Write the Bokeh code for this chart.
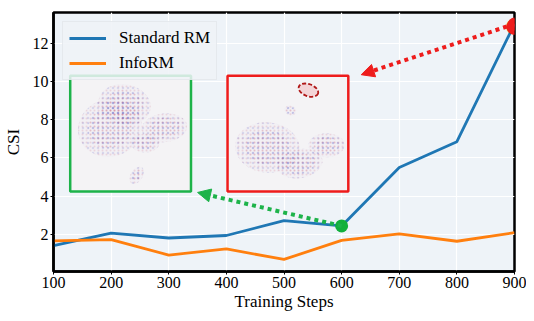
from bokeh.plotting import figure
from bokeh.models import Arrow, NormalHead, FixedTicker, Legend, LegendItem, Label
from bokeh.embed import file_html
from bokeh.resources import INLINE

# ---- data ----
steps = [100, 200, 300, 400, 500, 600, 700, 800, 900]
standard_rm = [1.42, 2.07, 1.82, 1.95, 2.73, 2.45, 5.50, 6.85, 13.0]
info_rm = [1.67, 1.73, 0.93, 1.25, 0.70, 1.70, 2.03, 1.65, 2.10]
x_ticks = [100, 200, 300, 400, 500, 600, 700, 800, 900]
y_ticks = [2, 4, 6, 8, 10, 12]
series_names = ["Standard RM", "InfoRM"]
x_title = "Training Steps"
y_title = "CSI"

BLUE = "#1f77b4"
ORANGE = "#ff7f0e"
RED = "#ee1c1c"
GREEN = "#1db34a"
SERIF = "Liberation Serif"

W, H = 526, 313
BL, BR, BT, BB = 53, 12, 12, 34
X0, X1, Y0, Y1 = 100, 900, 0.07, 13.6
p = figure(width=W, height=H, x_range=(X0, X1), y_range=(Y0, Y1),
           output_backend="svg", toolbar_location=None,
           min_border_left=BL, min_border_right=BR, min_border_top=BT, min_border_bottom=BB)
p.background_fill_color = "#eef3f8"
p.border_fill_color = "white"
p.outline_line_color = "black"
p.outline_line_width = 2.5

p.xgrid.grid_line_color = "white"
p.ygrid.grid_line_color = "white"
p.xgrid.grid_line_width = 1.2
p.ygrid.grid_line_width = 1.2

p.xaxis.ticker = FixedTicker(ticks=x_ticks)
p.yaxis.ticker = FixedTicker(ticks=y_ticks)
for ax in (p.xaxis[0], p.yaxis[0]):
    ax.axis_line_color = "black"
    ax.axis_line_width = 2.5
    ax.major_tick_line_color = "black"
    ax.major_tick_out = 3
    ax.major_tick_in = 0
    ax.minor_tick_line_color = None
    ax.major_label_text_font = SERIF
    ax.major_label_text_font_size = "16px"
    ax.major_label_text_color = "black"
    ax.axis_label_text_font = SERIF
    ax.axis_label_text_font_size = "17px"
    ax.axis_label_text_font_style = "normal"
    ax.axis_label_text_color = "black"
p.xaxis.axis_label = x_title
p.yaxis.axis_label = y_title
p.xaxis.major_label_standoff = 2
p.yaxis.major_label_standoff = 2
p.xaxis.axis_label_standoff = 1
p.yaxis.axis_label_standoff = 7

# ---- insets (t-SNE thumbnails, drawn schematically) ----
def to_data(box, u, v):
    x0, x1, y0, y1 = box
    return x0 + u * (x1 - x0), y0 + v * (y1 - y0)

green_box = (129, 338.6, 4.25, 10.3)
red_box = (402, 611.6, 4.25, 10.3)
BOX_PX = 120

for box, col in ((green_box, GREEN), (red_box, RED)):
    x0, x1, y0, y1 = box
    p.quad(left=[x0], right=[x1], bottom=[y0], top=[y1], fill_color="#f4f3f5",
           line_color=col, line_width=2.5)

green_blobs = [  # u, v, w, h, angle
    (0.33, 0.55, 0.54, 0.48, 0.3),
    (0.45, 0.75, 0.44, 0.34, -0.2),
    (0.78, 0.55, 0.38, 0.24, 0.1),
    (0.62, 0.42, 0.24, 0.16, 0.0),
    (0.55, 0.14, 0.10, 0.16, -0.6),
]
red_blobs = [
    (0.33, 0.38, 0.54, 0.42, -0.1),
    (0.60, 0.24, 0.38, 0.24, 0.2),
    (0.82, 0.40, 0.30, 0.20, 0.0),
    (0.52, 0.70, 0.10, 0.08, -0.4),
]

def draw_blobs(box, blobs):
    xs, ys, ws, hs, ang = [], [], [], [], []
    for u, v, w, h, a in blobs:
        x, y = to_data(box, u, v)
        xs.append(x); ys.append(y); ws.append(w * BOX_PX); hs.append(h * BOX_PX); ang.append(a)
    p.ellipse(x=xs, y=ys, width=ws, height=hs, angle=ang,
              width_units="screen", height_units="screen",
              fill_color="#ece6f0", fill_alpha=0.2, line_color=None)
    for shrink, alpha in ((1.0, 0.16), (0.7, 0.16)):
        p.ellipse(x=xs, y=ys, width=[w * shrink for w in ws], height=[h * shrink for h in hs],
                  angle=ang, width_units="screen", height_units="screen",
                  fill_color=None, line_color=None,
                  hatch_pattern="dot", hatch_scale=4, hatch_color="#c04a66",
                  hatch_alpha=alpha, hatch_weight=0.5)
        p.ellipse(x=xs, y=ys, width=[w * shrink for w in ws], height=[h * shrink for h in hs],
                  angle=ang, width_units="screen", height_units="screen",
                  fill_color=None, line_color=None,
                  hatch_pattern="dot", hatch_scale=5, hatch_color="#5050c0",
                  hatch_alpha=alpha, hatch_weight=0.5)

draw_blobs(green_box, green_blobs)
draw_blobs(red_box, red_blobs)

# dashed highlight ellipse in the red inset
hx, hy = to_data(red_box, 0.67, 0.875)
p.ellipse(x=[hx], y=[hy], width=[0.17 * BOX_PX], height=[0.10 * BOX_PX], angle=[-0.35],
          width_units="screen", height_units="screen",
          fill_color="#f2ccd0", fill_alpha=0.8, line_color="#b01818",
          line_width=1.8, line_dash="4 2")

# ---- series ----
r_std = p.line(steps, standard_rm, line_color=BLUE, line_width=2.8)
r_info = p.line(steps, info_rm, line_color=ORANGE, line_width=2.8)

# highlighted points and arrows
g_idx = steps.index(600)
r_idx = steps.index(900)
p.add_layout(Arrow(end=NormalHead(size=13, fill_color=GREEN, line_color=GREEN),
                   x_start=steps[g_idx], y_start=standard_rm[g_idx], x_end=350, y_end=4.2,
                   line_color=GREEN, line_width=4, line_dash="4 4"))
p.add_layout(Arrow(end=NormalHead(size=13, fill_color=RED, line_color=RED),
                   x_start=steps[r_idx], y_start=standard_rm[r_idx], x_end=634, y_end=10.35,
                   line_color=RED, line_width=4, line_dash="4 4"))
p.scatter([steps[g_idx]], [standard_rm[g_idx]], size=13, fill_color="#12b03c", line_color=None)
p.scatter([steps[r_idx]], [standard_rm[r_idx]], size=13, fill_color=RED, line_color=None)
# the end marker pokes out of the frame in the original; a text glyph is not clipped
p.add_layout(Label(x=steps[r_idx], y=standard_rm[r_idx], text="\u25cf",
                   text_font="DejaVu Sans", text_font_size="21px", text_color=RED,
                   text_align="center", text_baseline="middle", y_offset=-1))

legend = Legend(items=[LegendItem(label=series_names[0], renderers=[r_std]),
                       LegendItem(label=series_names[1], renderers=[r_info])],
                location="top_left")
legend.label_text_font = SERIF
legend.label_text_font_size = "17px"
legend.label_text_color = "black"
legend.glyph_width = 37
legend.glyph_height = 20
legend.label_standoff = 13
legend.spacing = 5
legend.padding = 6
legend.margin = 9
legend.background_fill_color = "#eef2f7"
legend.background_fill_alpha = 0.85
legend.border_line_color = "#dcdfe3"
legend.border_line_width = 1
p.add_layout(legend)

open("out.html", "w").write(file_html(p, INLINE))
